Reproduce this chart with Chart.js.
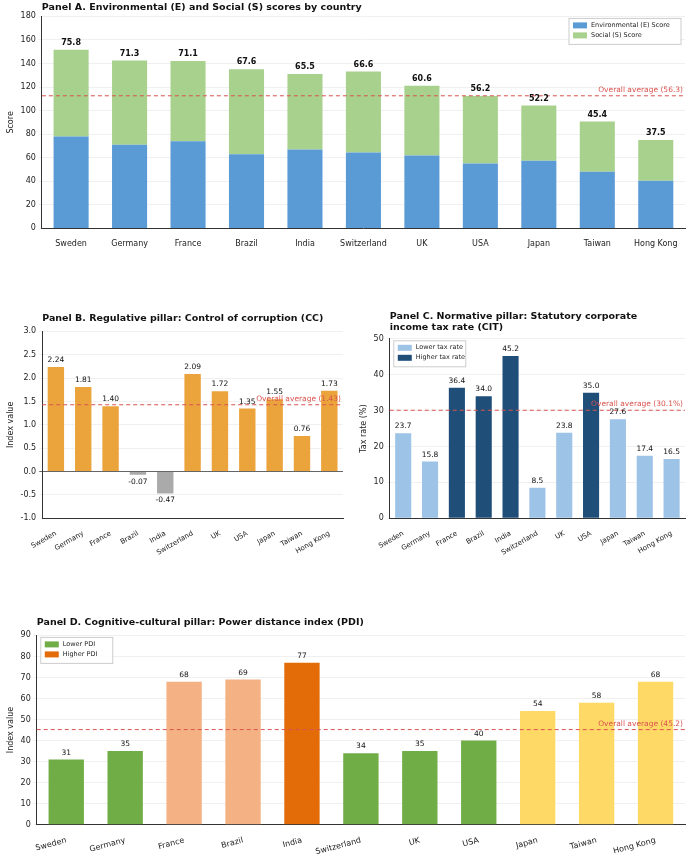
<!DOCTYPE html>
<html>
<head>
<meta charset="utf-8">
<script src="https://cdn.jsdelivr.net/npm/chart.js@4/dist/chart.umd.min.js"></script>
<style>
body { margin: 0; background: #fff; width: 691px; height: 860px; position: relative; overflow: hidden; }
.box { position: absolute; }
</style>
</head>
<body>
<div class="box" style="left:0;top:0;width:691px;height:252px"><canvas id="chartA"></canvas></div>
<div class="box" style="left:0;top:310px;width:345px;height:250px"><canvas id="chartB"></canvas></div>
<div class="box" style="left:345px;top:310px;width:346px;height:250px"><canvas id="chartC"></canvas></div>
<div class="box" style="left:0;top:614px;width:691px;height:246px"><canvas id="chartD"></canvas></div>
<script>
const countries = ['Sweden', 'Germany', 'France', 'Brazil', 'India', 'Switzerland', 'UK', 'USA', 'Japan', 'Taiwan', 'Hong Kong']

// Panel A
const env_scores = [78, 71, 74, 63, 67, 64.5, 62, 55, 57.5, 48, 40.5]
const soc_scores = [73.6, 71.6, 68.2, 72.2, 64, 68.7, 59.2, 57.4, 46.9, 42.8, 34.5]
const avg_scores = [75.8, 71.3, 71.1, 67.6, 65.5, 66.6, 60.6, 56.2, 52.2, 45.4, 37.5]
const avg_a = 56.3

// Panel B
const cc_values = [2.24, 1.81, 1.40, -0.07, -0.47, 2.09, 1.72, 1.35, 1.55, 0.76, 1.73]
const avg_b = 1.43

// Panel C
const cit_values = [23.7, 15.8, 36.4, 34.0, 45.2, 8.5, 23.8, 35.0, 27.6, 17.4, 16.5]
const avg_c = 30.1

// Panel D
const pdi_values = [31, 35, 68, 69, 77, 34, 35, 40, 54, 58, 68]
const pdi_groups = ['low', 'low', 'mid', 'mid', 'high', 'low', 'low', 'low', 'asia', 'asia', 'asia']
const avg_d = 45.2

const FONT = 'DejaVu Sans'
Chart.defaults.font.family = FONT
Chart.defaults.font.size = 8
Chart.defaults.color = '#222'
Chart.defaults.animation = false
Chart.defaults.maintainAspectRatio = false

// dashed average line with label at right
function avg_line(value, label) {
    return {
        id: 'avg_line',
        afterDatasetsDraw(chart) {
            const y = chart.scales.y.getPixelForValue(value)
            const area = chart.chartArea
            const ctx = chart.ctx
            ctx.save()
            ctx.strokeStyle = '#d9534f'
            ctx.lineWidth = 1
            ctx.setLineDash([4, 3])
            ctx.beginPath()
            ctx.moveTo(area.left, y)
            ctx.lineTo(area.right, y)
            ctx.stroke()
            ctx.fillStyle = '#d9534f'
            ctx.font = '7.5px ' + FONT
            ctx.textAlign = 'right'
            ctx.textBaseline = 'bottom'
            ctx.fillText(label, area.right - 2, y - 2)
            ctx.restore()
        }
    }
}

// title drawn aligned to the plot's left edge
function title_left(lines) {
    return {
        id: 'title_left',
        afterDraw(chart) {
            const ctx = chart.ctx
            const tb = chart.titleBlock
            ctx.save()
            ctx.fillStyle = '#111'
            ctx.font = 'bold 9.5px ' + FONT
            ctx.textBaseline = 'top'
            lines.forEach((l, i) => ctx.fillText(l, chart.chartArea.left, tb.top + tb.options.padding.top + i * 11))
            ctx.restore()
        }
    }
}

// value labels above (or below for negatives) bars
function bar_labels(texts, bold, fromLast) {
    return {
        id: 'bar_labels',
        afterDatasetsDraw(chart) {
            const ctx = chart.ctx
            const meta = chart.getDatasetMeta(fromLast ? chart.data.datasets.length - 1 : 0)
            ctx.save()
            ctx.fillStyle = '#111'
            ctx.font = (bold ? 'bold ' : '') + (bold ? '8px ' : '7.5px ') + FONT
            ctx.textAlign = 'center'
            meta.data.forEach((bar, i) => {
                const neg = bar.y > bar.base
                ctx.textBaseline = neg ? 'top' : 'bottom'
                ctx.fillText(texts[i], bar.x, neg ? bar.y + 3 : bar.y - 3)
            })
            ctx.restore()
        }
    }
}

function title(text) {
    return {
        display: true, text: text, align: 'start',
        font: { size: 9.5, weight: 'bold' }, color: 'rgba(0,0,0,0)',
        padding: { top: 4, bottom: 6 }
    }
}

function y_axis(min, max, step, label, fmt) {
    return {
        min: min, max: max,
        ticks: { stepSize: step, callback: fmt || (v => v), font: { size: 8 } },
        grid: { color: 'rgba(0,0,0,0.06)', drawTicks: true, tickLength: 3 },
        border: { color: '#333' },
        title: { display: true, text: label, font: { size: 8 }, padding: 2 }
    }
}

function x_axis(rot) {
    return {
        grid: { display: false },
        border: { color: '#333' },
        ticks: { maxRotation: rot, minRotation: rot, font: { size: rot > 20 ? 7 : 8 }, autoSkip: false }
    }
}

function legend_plugin(names, colors, w) {
    return {
        id: 'legend_box',
        afterDraw(chart) {
            const ctx = chart.ctx
            const a = chart.chartArea
            const h = 26
            const x = w > 100 ? a.right - w - 4 : a.left + 4
            const y = a.top + 2
            ctx.save()
            ctx.fillStyle = 'rgba(255,255,255,0.9)'
            ctx.strokeStyle = '#ccc'
            ctx.fillRect(x, y, w, h)
            ctx.strokeRect(x, y, w, h)
            names.forEach((n, i) => {
                ctx.fillStyle = colors[i]
                ctx.fillRect(x + 4, y + 4 + i * 10, 14, 6)
                ctx.fillStyle = '#222'
                ctx.font = '6.5px ' + FONT
                ctx.textBaseline = 'middle'
                ctx.fillText(n, x + 22, y + 7 + i * 10)
            })
            ctx.restore()
        }
    }
}

new Chart(document.getElementById('chartA'), {
    type: 'bar',
    data: {
        labels: countries,
        datasets: [
            { label: 'Environmental (E) Score', data: env_scores, backgroundColor: '#5b9bd5', categoryPercentage: 0.6, barPercentage: 1 },
            { label: 'Social (S) Score', data: soc_scores, backgroundColor: '#a9d18e', categoryPercentage: 0.6, barPercentage: 1 }
        ]
    },
    options: {
        layout: { padding: { right: 6, left: 4 } },
        plugins: {
            title: Object.assign(title('Panel A'), { padding: { top: 3, bottom: 2 } }),
            legend: { display: false },
            tooltip: { enabled: false }
        },
        scales: {
            x: Object.assign(x_axis(0), { stacked: true }),
            y: Object.assign(y_axis(0, 180, 20, 'Score'), { stacked: true })
        }
    },
    plugins: [avg_line(avg_a * 2, 'Overall average (' + avg_a.toFixed(1) + ')'),
        bar_labels(avg_scores.map(v => v.toFixed(1)), true, true),
        title_left(['Panel A. Environmental (E) and Social (S) scores by country']),
        legend_plugin(['Environmental (E) Score', 'Social (S) Score'], ['#5b9bd5', '#a9d18e'], 112)]
})

new Chart(document.getElementById('chartB'), {
    type: 'bar',
    data: {
        labels: countries,
        datasets: [{ data: cc_values, backgroundColor: cc_values.map(v => v < 0 ? '#aaaaaa' : '#eba43c'), categoryPercentage: 0.6, barPercentage: 1 }]
    },
    options: {
        layout: { padding: { right: 2, left: 4 } },
        plugins: { title: title('Panel B'), legend: { display: false }, tooltip: { enabled: false } },
        scales: {
            x: x_axis(30),
            y: Object.assign(y_axis(-1, 3, 0.5, 'Index value', v => v.toFixed(1)), {
                grid: { color: c => c.tick.value === 0 ? '#666' : 'rgba(0,0,0,0.06)', tickLength: 3 }
            })
        }
    },
    plugins: [avg_line(avg_b, 'Overall average (' + avg_b.toFixed(2) + ')'),
        bar_labels(cc_values.map(v => v.toFixed(2)), false),
        title_left(['Panel B. Regulative pillar: Control of corruption (CC)'])]
})

new Chart(document.getElementById('chartC'), {
    type: 'bar',
    data: {
        labels: countries,
        datasets: [
            { label: 'Lower tax rate', data: cit_values.map(v => v < avg_c ? v : null), backgroundColor: '#9dc3e6', categoryPercentage: 0.6, barPercentage: 1, grouped: false },
            { label: 'Higher tax rate', data: cit_values.map(v => v >= avg_c ? v : null), backgroundColor: '#1f4e79', categoryPercentage: 0.6, barPercentage: 1, grouped: false }
        ]
    },
    options: {
        layout: { padding: { right: 6, left: 12 } },
        plugins: {
            title: Object.assign(title(['Panel C', 'x']), { padding: { top: 2, bottom: 4 } }),
            legend: { display: false }, tooltip: { enabled: false }
        },
        scales: { x: x_axis(30), y: y_axis(0, 50, 10, 'Tax rate (%)') }
    },
    plugins: [avg_line(avg_c, 'Overall average (' + avg_c.toFixed(1) + '%)'),
        {
            id: 'cit_labels',
            afterDatasetsDraw(chart) {
                const ctx = chart.ctx
                ctx.save()
                ctx.font = '7.5px ' + FONT
                ctx.fillStyle = '#111'
                ctx.textAlign = 'center'
                ctx.textBaseline = 'bottom'
                chart.data.datasets.forEach((d, di) => {
                    chart.getDatasetMeta(di).data.forEach((bar, i) => {
                        if (d.data[i] != null) ctx.fillText(cit_values[i].toFixed(1), bar.x, bar.y - 3)
                    })
                })
                ctx.restore()
            }
        },
        title_left(['Panel C. Normative pillar: Statutory corporate', 'income tax rate (CIT)']),
        legend_plugin(['Lower tax rate', 'Higher tax rate'], ['#9dc3e6', '#1f4e79'], 72)]
})

const pdi_colors = { low: '#70ad47', mid: '#f4b183', high: '#e36c09', asia: '#ffd966' }

new Chart(document.getElementById('chartD'), {
    type: 'bar',
    data: {
        labels: countries,
        datasets: [{ data: pdi_values, backgroundColor: pdi_groups.map(g => pdi_colors[g]), categoryPercentage: 0.6, barPercentage: 1 }]
    },
    options: {
        layout: { padding: { right: 6, left: 4 } },
        plugins: { title: title('Panel D'), legend: { display: false }, tooltip: { enabled: false } },
        scales: { x: x_axis(15), y: y_axis(0, 90, 10, 'Index value') }
    },
    plugins: [avg_line(avg_d, 'Overall average (' + avg_d.toFixed(1) + ')'),
        bar_labels(pdi_values.map(v => String(v)), false),
        title_left(['Panel D. Cognitive-cultural pillar: Power distance index (PDI)']),
        legend_plugin(['Lower PDI', 'Higher PDI'], [pdi_colors.low, pdi_colors.high], 72)]
})
</script>
</body>
</html>
